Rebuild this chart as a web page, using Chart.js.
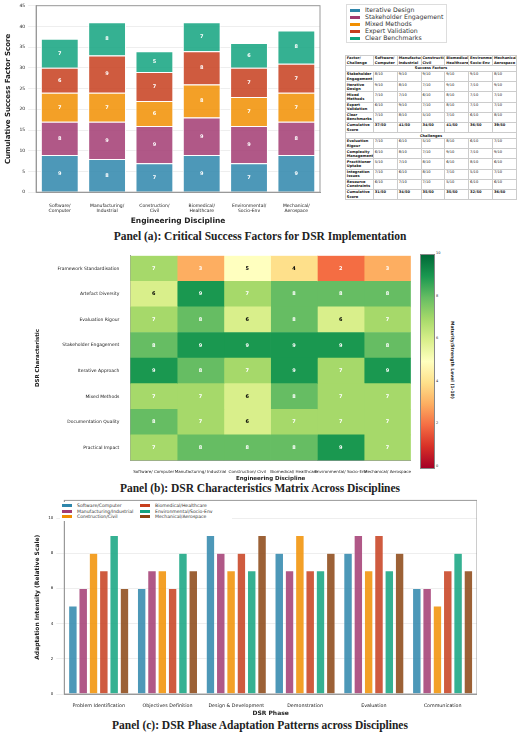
<!DOCTYPE html><html><head><meta charset="utf-8">
<script src="https://cdn.jsdelivr.net/npm/chart.js@4"></script>
<style>
body{margin:0;width:520px;height:732px;position:relative;background:#fff;font-family:"DejaVu Sans",sans-serif;overflow:hidden;color:#222}
.box{position:absolute}
.ptitle{position:absolute;left:0;width:520px;text-align:center;font-family:"Liberation Serif",serif;font-weight:bold;font-size:11.5px}
table{border-collapse:collapse;font-size:3.6px;line-height:4.3px;table-layout:fixed;width:172px;color:#111}
td{border:0.4px solid #ccc;padding:0.3px 0.8px;vertical-align:top;overflow:hidden}
td.sec{text-align:center;font-weight:bold}
td.b{font-weight:bold}
#legA{position:absolute;left:346px;top:4px;border:0.5px solid #ddd;padding:1px 3px;font-size:6.2px;line-height:7px;color:#333}
#legA span,#legC span{display:inline-block;width:10px;height:3px;margin-right:5px;vertical-align:middle}
#legC{position:absolute;left:60px;top:502px;font-size:4.6px;line-height:5.6px;display:grid;grid-template-columns:78px 90px;grid-auto-flow:column;grid-template-rows:repeat(3,5.6px);background:#fff;padding:1px 2px;color:#333}
</style></head><body>
<div class="box" style="left:0;top:0;width:322px;height:226px"><canvas id="ca"></canvas></div>
<div id="legA"></div>
<div class="box" style="left:345px;top:55px;width:172px" id="tbl"></div>
<div class="ptitle" style="top:230px">Panel (a): Critical Success Factors for DSR Implementation</div>
<div class="box" style="left:30px;top:250px;width:382px;height:232px"><canvas id="cb"></canvas></div>
<div class="box" style="left:420px;top:254px;width:13px;height:213px;border:0.5px solid #888;background:linear-gradient(to top,#a50026,#d73027,#f46d43,#fdae61,#fee08b,#ffffbf,#d9ef8b,#a6d96a,#66bd63,#1a9850,#006837)"></div>
<div id="cbt"></div>
<div class="box" style="left:432px;top:300px;width:40px;height:120px;font-size:4.5px;font-weight:bold;writing-mode:vertical-rl;text-align:center;line-height:40px">Maturity/Strength Level (1-10)</div>
<div class="ptitle" style="top:482px">Panel (b): DSR Characteristics Matrix Across Disciplines</div>
<div class="box" style="left:30px;top:495px;width:447px;height:222px"><canvas id="cc"></canvas></div>
<div id="legC"></div>
<div class="ptitle" style="top:719px">Panel (c): DSR Phase Adaptation Patterns across Disciplines</div>
<script>
const disciplinesA=[["Software/","Computer"],["Manufacturing/","Industrial"],["Construction/","Civil"],["Biomedical/","Healthcare"],["Environmental/","Socio-Env"],["Mechanical/","Aerospace"]];
const factors=["Iterative Design","Stakeholder Engagement","Mixed Methods","Expert Validation","Clear Benchmarks"];
const iterativeDesign=[9,8,7,9,7,9];
const stakeholderEng=[8,9,9,9,9,8];
const mixedMethods=[7,7,6,8,7,7];
const expertValidation=[6,9,7,8,7,7];
const clearBenchmarks=[7,8,5,7,6,8];
const challengeNames=["Evaluation Rigour","Complexity Management","Practitioner Uptake","Integration Issues","Resource Constraints"];
const evalRigourC=[7,6,5,8,6,7];
const complexityC=[6,8,7,9,7,9];
const uptakeC=[5,7,8,6,8,6];
const integrationC=[7,6,8,7,5,7];
const resourceC=[6,7,7,5,6,6];
const challengeTotals=[31,34,35,35,32,36];
const disciplinesB=["Software/ Computer","Manufacturing/ Industrial","Construction/ Civil","Biomedical/ Healthcare","Environmental/ Socio-Env","Mechanical/ Aerospace"];
const characteristics=["Framework Standardisation","Artefact Diversity","Evaluation Rigour","Stakeholder Engagement","Iterative Approach","Mixed Methods","Documentation Quality","Practical Impact"];
const matrix=[[7,3,5,4,2,3],[6,9,7,8,8,8],[7,8,6,8,6,7],[8,9,9,9,9,8],[9,8,7,9,7,9],[7,7,6,8,7,7],[8,7,6,7,7,7],[7,8,8,8,9,7]];
const phases=["Problem Identification","Objectives Definition","Design & Development","Demonstration","Evaluation","Communication"];
const disciplinesC=["Software/Computer","Manufacturing/Industrial","Construction/Civil","Biomedical/Healthcare","Environmental/Socio-Env","Mechanical/Aerospace"];
const phaseSoftware=[5,6,9,8,8,6];
const phaseManufacturing=[6,7,8,7,9,6];
const phaseConstruction=[8,7,7,9,7,5];
const phaseBiomedical=[7,6,8,7,9,7];
const phaseEnvironmental=[9,8,7,7,7,8];
const phaseMechanical=[6,7,9,8,8,7];

const colA=['#2E86AB','#A23B72','#F18F01','#C73E1D','#12A37F'];
const colC=['#2E86AB','#A23B72','#F18F01','#C73E1D','#12A37F','#8B4513'];
Chart.defaults.font.family='"DejaVu Sans",sans-serif';
Chart.defaults.color='#222';
const valLabels={id:'vl',afterDatasetsDraw(c,a,o){if(!o||!o.on)return;const ctx=c.ctx;ctx.save();ctx.font='bold 5px "DejaVu Sans"';ctx.textAlign='center';ctx.textBaseline='middle';
c.data.datasets.forEach((d,i)=>{c.getDatasetMeta(i).data.forEach((el,j)=>{const v=o.get(i,j);const p=el.getCenterPoint();ctx.fillStyle=o.color(i,j);ctx.fillText(v,p.x,p.y);});});ctx.restore();}};
const frame={id:'frame',afterDraw(c){const a=c.chartArea,x=c.ctx;x.save();x.strokeStyle='#999';x.lineWidth=1;x.strokeRect(a.left,a.top,a.width,a.height);x.restore();}};

// Panel a
const seriesA=[iterativeDesign,stakeholderEng,mixedMethods,expertValidation,clearBenchmarks];
new Chart(ca,{type:'bar',data:{labels:disciplinesA,datasets:seriesA.map((d,i)=>({label:factors[i],data:d,backgroundColor:colA[i]+'D9',borderColor:'#fff',borderWidth:1,barPercentage:0.8,categoryPercentage:1}))},
options:{responsive:true,maintainAspectRatio:false,animation:false,plugins:{legend:{display:false},vl:{on:true,get:(i,j)=>seriesA[i][j],color:()=>'#fff'}},
layout:{padding:{right:2,top:2}},
scales:{x:{stacked:true,grid:{display:false},border:{color:'#999'},ticks:{font:{size:4.5},maxRotation:0},title:{display:true,text:'Engineering Discipline',font:{size:7.5,weight:'bold'},padding:0}},
y:{stacked:true,min:0,max:45,ticks:{stepSize:5,font:{size:4.5}},grid:{color:'#eee'},border:{color:'#999'},title:{display:true,text:'Cumulative Success Factor Score',font:{size:7,weight:'bold'}}}}},plugins:[valLabels,frame]});
legA.innerHTML=factors.map((f,i)=>`<div><span style="background:${colA[i]}"></span>${f}</div>`).join('');

// table
const sfRows=[["Stakeholder Engagement",stakeholderEng],["Iterative Design",iterativeDesign],["Mixed Methods",mixedMethods],["Expert Validation",expertValidation],["Clear Benchmarks",clearBenchmarks]];
const chRows=challengeNames.map((n,i)=>[n,[evalRigourC,complexityC,uptakeC,integrationC,resourceC][i]]);
let h='<table><colgroup><col style="width:28px">'+disciplinesB.map(()=>'<col>').join('')+'</colgroup><tr><td class="b">Factor/ Challenge</td>'+disciplinesB.map(d=>`<td class="b">${d}</td>`).join('')+'</tr>';
h+='<tr><td class="sec" colspan="7">Success Factors</td></tr>';
sfRows.forEach(r=>{h+=`<tr><td class="b">${r[0]}</td>`+r[1].map(v=>`<td>${v}/10</td>`).join('')+'</tr>';});
h+='<tr><td class="b">Cumulative Score</td>'+disciplinesB.map((d,j)=>`<td class="b">${sfRows.reduce((s,r)=>s+r[1][j],0)}/50</td>`).join('')+'</tr>';
h+='<tr><td class="sec" colspan="7">Challenges</td></tr>';
chRows.forEach(r=>{h+=`<tr><td class="b">${r[0]}</td>`+r[1].map(v=>`<td>${v}/10</td>`).join('')+'</tr>';});
h+='<tr><td class="b">Cumulative Score</td>'+challengeTotals.map(v=>`<td class="b">${v}/50</td>`).join('')+'</tr></table>';
tbl.innerHTML=h;

// Panel b heatmap
const stops=['#a50026','#d73027','#f46d43','#fdae61','#fee08b','#ffffbf','#d9ef8b','#a6d96a','#66bd63','#1a9850','#006837'];
const cmap=v=>stops[v];
new Chart(cb,{type:'bar',data:{labels:characteristics,datasets:disciplinesB.map((d,j)=>({label:d,data:characteristics.map(()=>1),backgroundColor:matrix.map(r=>cmap(r[j])),borderWidth:0,barPercentage:1,categoryPercentage:1}))},
options:{indexAxis:'y',responsive:true,maintainAspectRatio:false,animation:false,plugins:{legend:{display:false},tooltip:{enabled:false},vl:{on:true,get:(j,i)=>matrix[i][j],color:(j,i)=>(matrix[i][j]>=4&&matrix[i][j]<=6)?'#000':'#fff'}},
layout:{padding:{top:3}},
scales:{x:{stacked:true,min:0,max:6,grid:{display:false},border:{color:'#999'},afterBuildTicks:s=>{s.ticks=disciplinesB.map((d,i)=>({value:i+0.5}));},ticks:{autoSkip:false,maxRotation:0,font:{size:4.1},padding:1,callback:v=>disciplinesB[Math.floor(v)]},title:{display:true,text:'Engineering Discipline',font:{size:5.5,weight:'bold'},padding:0}},
y:{stacked:true,grid:{display:false},border:{color:'#999'},ticks:{font:{size:4.5}},title:{display:true,text:'DSR Characteristic',font:{size:5.5,weight:'bold'},padding:{bottom:14}}}}},plugins:[valLabels]});
cbt.innerHTML=[0,2,4,6,8,10].map(v=>`<div style="position:absolute;left:436px;top:${254+213*(1-v/10)-3}px;font-size:3.5px">${v}</div>`).join('');

// Panel c
const seriesC=[phaseSoftware,phaseManufacturing,phaseConstruction,phaseBiomedical,phaseEnvironmental,phaseMechanical];
new Chart(cc,{type:'bar',data:{labels:phases,datasets:seriesC.map((d,i)=>({label:disciplinesC[i],data:d,backgroundColor:colC[i]+'D9',borderColor:'#fff',borderWidth:0.5,barPercentage:0.82,categoryPercentage:0.9}))},
options:{responsive:true,maintainAspectRatio:false,animation:false,layout:{padding:{top:4}},
plugins:{legend:{display:false}},
scales:{x:{grid:{display:false},border:{color:'#999'},ticks:{font:{size:4.8},maxRotation:0,padding:1},title:{display:true,text:'DSR Phase',font:{size:6,weight:'bold'},padding:0}},
y:{min:0,max:11,afterBuildTicks:s=>{s.ticks=[0,2,4,6,8,10].map(v=>({value:v}));},ticks:{font:{size:4}},grid:{color:'#eee'},border:{color:'#999'},title:{display:true,text:'Adaptation Intensity (Relative Scale)',font:{size:6,weight:'bold'}}}}},
plugins:[frame]});
legC.innerHTML=disciplinesC.map((d,i)=>`<div><span style="background:${colC[i]}"></span>${d}</div>`).join('');
</script></body></html>
